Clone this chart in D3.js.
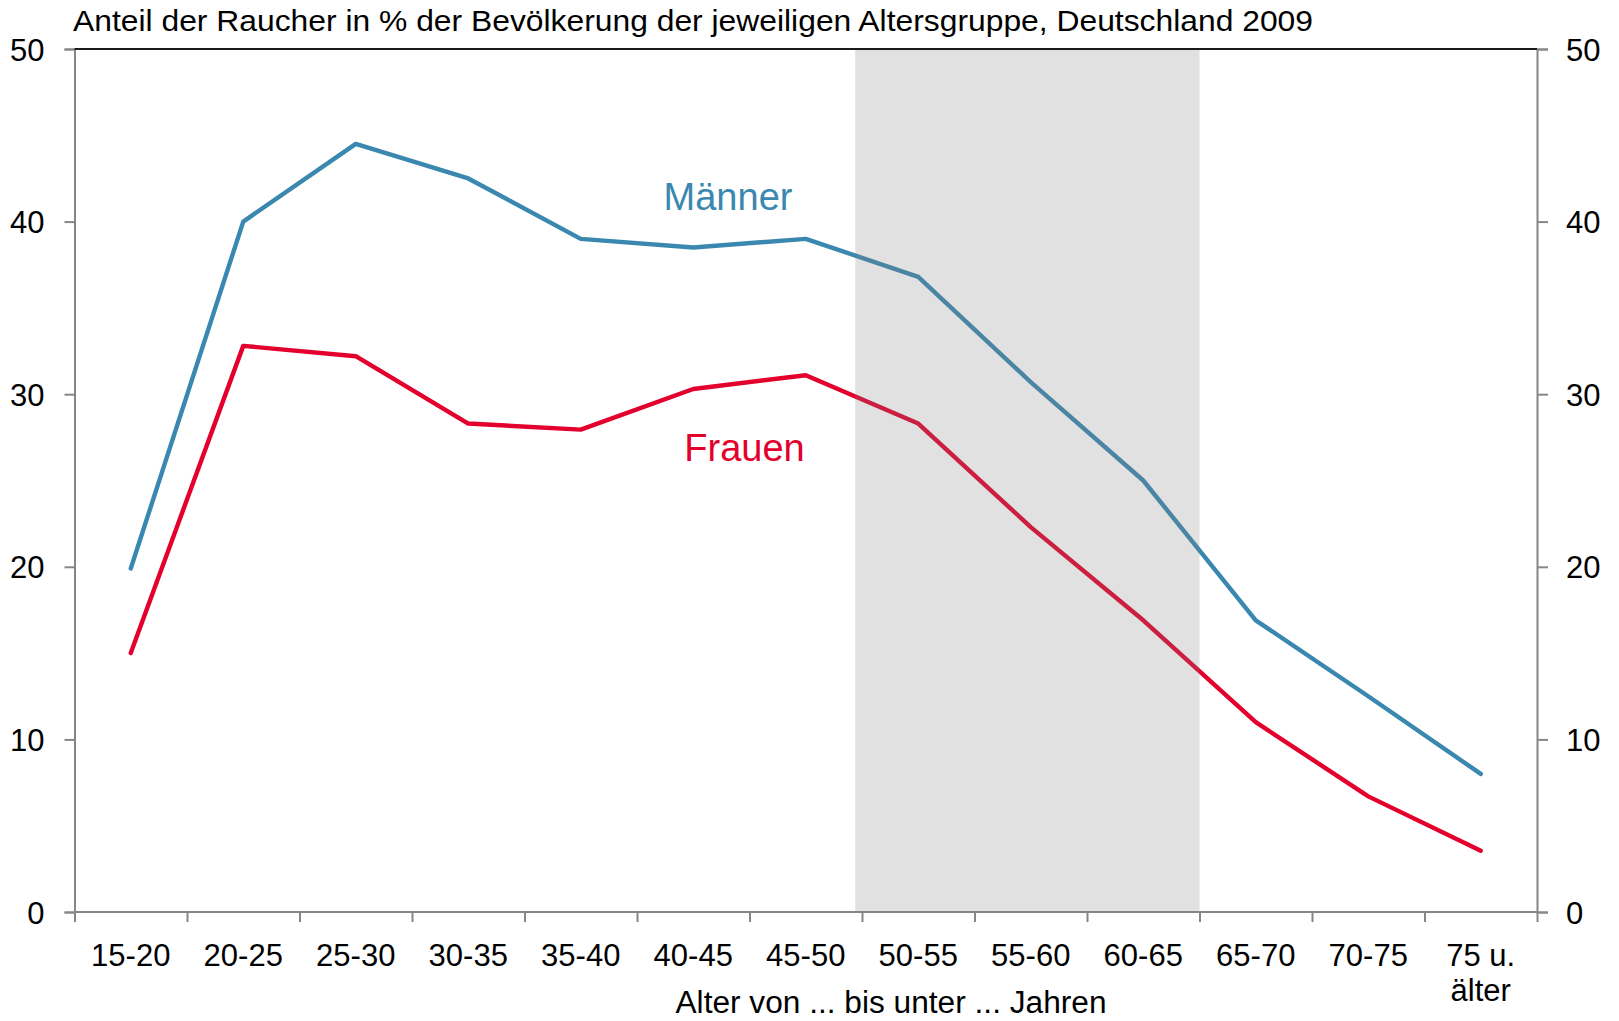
<!DOCTYPE html>
<html>
<head>
<meta charset="utf-8">
<script src="https://cdn.jsdelivr.net/npm/d3@7"></script>
<style>
  html, body { margin: 0; padding: 0; background: #fff; }
  svg { display: block; font-family: "Liberation Sans", Arial, sans-serif; }
</style>
</head>
<body>
<svg id="chart" width="1619" height="1021"></svg>
<script>
// ---- data ----
const categories = ["15-20","20-25","25-30","30-35","35-40","40-45","45-50","50-55","55-60","60-65","65-70","70-75","75 u.|älter"];
const maenner = [19.9, 40.0, 44.5, 42.5, 39.0, 38.5, 39.0, 36.8, 30.7, 25.0, 16.9, 12.5, 8.0];
const frauen  = [15.0, 32.8, 32.2, 28.3, 27.95, 30.3, 31.1, 28.3, 22.3, 16.9, 11.0, 6.7, 3.55];
const yTicks = [0, 10, 20, 30, 40, 50];
const shadeRange = [6.94, 10]; // in category units
const title = "Anteil der Raucher in % der Bevölkerung der jeweiligen Altersgruppe, Deutschland 2009";
const xTitle = "Alter von ... bis unter ... Jahren";
const seriesLabels = ["Männer", "Frauen"];

// ---- layout ----
const L = 74.5, R = 1537, T = 49, B = 912;
const svg = d3.select("#chart");

const x = d3.scaleBand().domain(categories).range([L, R]).padding(0);
const xLin = d3.scaleLinear().domain([0, categories.length]).range([L, R]);
const y = d3.scaleLinear().domain([0, 50]).range([B, T]);

const cBlue = "#3a88b0", cRed = "#e3002d";
const fs = 31;

// title
svg.append("text").attr("x", 73).attr("y", 31)
  .attr("font-size", 30).attr("fill", "#000")
  .attr("textLength", 1240).attr("lengthAdjust", "spacingAndGlyphs").text(title);

// lines
const line = d3.line().x((d, i) => x(categories[i]) + x.bandwidth() / 2).y(d => y(d));
svg.append("path").datum(maenner).attr("d", line)
  .attr("fill", "none").attr("stroke", cBlue).attr("stroke-width", 4.4)
  .attr("stroke-linecap", "round").attr("stroke-linejoin", "round");
svg.append("path").datum(frauen).attr("d", line)
  .attr("fill", "none").attr("stroke", cRed).attr("stroke-width", 4.4)
  .attr("stroke-linecap", "round").attr("stroke-linejoin", "round");

// shaded band (semi-transparent overlay)
svg.append("rect")
  .attr("x", xLin(shadeRange[0])).attr("width", xLin(shadeRange[1]) - xLin(shadeRange[0]))
  .attr("y", y(50)).attr("height", y(0) - y(50))
  .attr("fill", "#808080").attr("fill-opacity", 0.236);

// axes
const axisColor = "#868686";
const gL = svg.append("g").attr("transform", `translate(${L},0)`)
  .call(d3.axisLeft(y).tickValues(yTicks).tickSize(10).tickPadding(20).tickFormat(d3.format("d")));
const gR = svg.append("g").attr("transform", `translate(${R},0)`)
  .call(d3.axisRight(y).tickValues(yTicks).tickSize(11).tickPadding(18).tickFormat(d3.format("d")));
const gB = svg.append("g").attr("transform", `translate(0,${B})`)
  .call(d3.axisBottom(xLin).tickValues(d3.range(0, categories.length + 1)).tickSize(10).tickFormat(""));

[gL, gR, gB].forEach(g => {
  g.select(".domain").attr("stroke", axisColor).attr("stroke-width", 2);
  g.selectAll(".tick line").attr("stroke", axisColor).attr("stroke-width", 2);
  g.selectAll("text").attr("font-size", fs).attr("fill", "#000")
    .attr("font-family", "'Liberation Sans', Arial, sans-serif").attr("dy", "0.36em");
});
gB.select(".domain").attr("d", `M${L},0H${R}`);

// top border
svg.append("line").attr("x1", L).attr("x2", R).attr("y1", T).attr("y2", T)
  .attr("stroke", "#1a1a1a").attr("stroke-width", 2);

// category labels
const gx = svg.append("g");
categories.forEach(c => {
  const parts = c.split("|");
  const t = gx.append("text").attr("x", x(c) + x.bandwidth() / 2).attr("y", 966)
    .attr("text-anchor", "middle").attr("font-size", fs).attr("fill", "#000");
  parts.forEach((p, i) => {
    t.append("tspan").attr("x", x(c) + x.bandwidth() / 2).attr("dy", i === 0 ? 0 : 35).text(p);
  });
});

// x title
svg.append("text").attr("x", 891).attr("y", 1013).attr("text-anchor", "middle")
  .attr("font-size", fs).attr("fill", "#000").attr("textLength", 431)
  .attr("lengthAdjust", "spacingAndGlyphs").text(xTitle);

// series labels
svg.append("text").attr("x", 728).attr("y", 210).attr("text-anchor", "middle")
  .attr("font-size", 38).attr("fill", cBlue).text(seriesLabels[0]);
svg.append("text").attr("x", 744.5).attr("y", 461).attr("text-anchor", "middle")
  .attr("font-size", 38).attr("fill", cRed).text(seriesLabels[1]);
</script>
</body>
</html>
